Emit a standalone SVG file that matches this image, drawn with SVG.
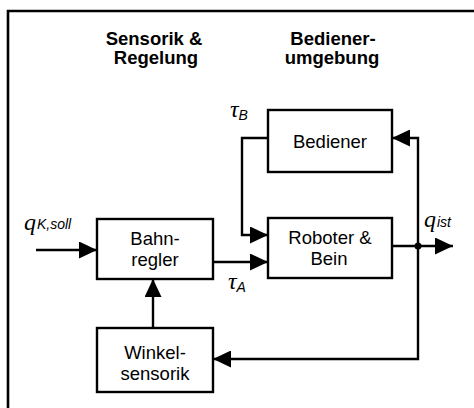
<svg xmlns="http://www.w3.org/2000/svg" width="474" height="408" viewBox="0 0 474 408">
<style>
.box{fill:#fff;stroke:#000;stroke-width:2.4}
.t{font-family:"Liberation Sans",Arial,sans-serif;font-size:18.5px;text-anchor:middle;fill:#000}
.h{font-family:"Liberation Sans",Arial,sans-serif;font-size:18.5px;font-weight:bold;text-anchor:middle;fill:#000}
.c{fill:none;stroke:#000;stroke-width:2.4}
.g{font-family:"Liberation Serif","Times New Roman",serif;font-style:italic;font-size:24px;fill:#000}
.s{font-family:"Liberation Sans",Arial,sans-serif;font-style:italic;font-size:14px;fill:#000}
</style>
<defs>
<marker id="ah" markerUnits="userSpaceOnUse" markerWidth="18" markerHeight="17" refX="18" refY="8.5" orient="auto">
<path d="M0,0 L18,8.5 L0,17 z" fill="#000"/>
</marker>
</defs>
<rect width="474" height="408" fill="#fff"/>
<path d="M8,420 V11 H480" fill="none" stroke="#000" stroke-width="2.6"/>
<g id="headings">
<text class="h" x="154" y="45">Sensorik &amp;</text>
<text class="h" x="156" y="64">Regelung</text>
<text class="h" x="333" y="45">Bediener-</text>
<text class="h" x="332" y="64">umgebung</text>
</g>
<g id="connectors">
<path class="c" d="M36,250 H97" marker-end="url(#ah)"/>
<path class="c" d="M213,262 H268" marker-end="url(#ah)"/>
<path class="c" d="M268,138 H242 V235 H268" marker-end="url(#ah)"/>
<path class="c" d="M392,246 H453" marker-end="url(#ah)"/>
<path class="c" d="M418,246 V138 H392" marker-end="url(#ah)"/>
<path class="c" d="M418,246 V359 H213" marker-end="url(#ah)"/>
<path class="c" d="M153,328 V279" marker-end="url(#ah)"/>
<circle cx="418" cy="246" r="3.5" fill="#000"/>
</g>
<g id="bediener">
<rect class="box" x="268" y="110" width="124" height="62"/>
<text class="t" x="330" y="148">Bediener</text>
</g>
<g id="bahnregler">
<rect class="box" x="97" y="219" width="116" height="60"/>
<text class="t" x="155" y="245">Bahn-</text>
<text class="t" x="155" y="266">regler</text>
</g>
<g id="roboter">
<rect class="box" x="268" y="218" width="124" height="60"/>
<text class="t" x="330" y="244">Roboter &amp;</text>
<text class="t" x="329" y="265">Bein</text>
</g>
<g id="winkelsensorik">
<rect class="box" x="97" y="328" width="116" height="64"/>
<text class="t" x="155" y="359">Winkel-</text>
<text class="t" x="155" y="380">sensorik</text>
</g>
<g id="labels">
<text x="24" y="230"><tspan class="g">q</tspan><tspan class="s" dx="1" dy="-1">K,soll</tspan></text>
<text x="424" y="227"><tspan class="g">q</tspan><tspan class="s" dx="1" dy="0">ist</tspan></text>
<text x="230" y="117"><tspan class="g">τ</tspan><tspan class="s" dx="0" dy="3">B</tspan></text>
<text x="228" y="289"><tspan class="g">τ</tspan><tspan class="s" dx="0" dy="3">A</tspan></text>
</g>
</svg>
